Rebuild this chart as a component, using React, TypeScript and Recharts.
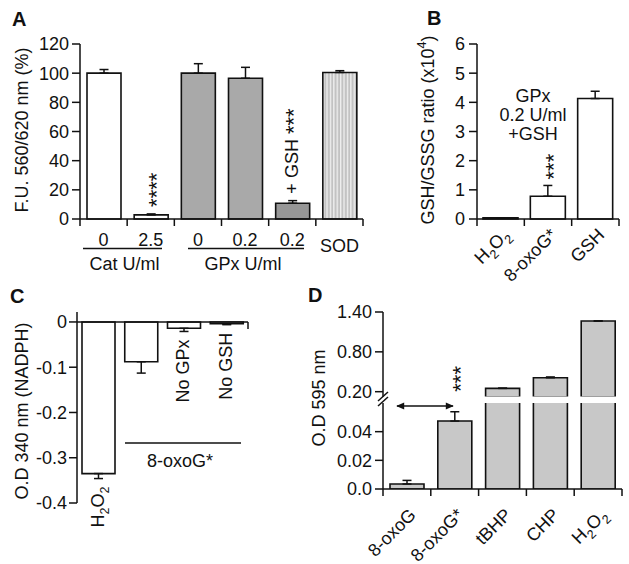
import React from 'react';
import { BarChart, Bar, XAxis, YAxis, ErrorBar, Cell, LabelList, ReferenceLine } from 'recharts';

const FONT = '"Liberation Sans", Arial, Helvetica, sans-serif';
const INK = '#111111';
const FS = 18;
const STAR_FS = 22;

// A: fluorescence, % of control
const A_CATS = ['0', '2.5', '0', '0.2', '0.2', 'SOD'];
const A_VALUES = [100, 2.8, 100, 96.5, 10.8, 100.5];
const A_ERRORS = [2.5, 0.7, 6.5, 7.5, 1.8, 1.2];
const A_NOTES = ['', '****', '', '', '+ GSH ***', ''];
const A_FILLS = ['#ffffff', '#ffffff', '#a9a9a9', '#a9a9a9', '#979797', 'url(#sodStripes)'];
const A_TICKS = [0, 20, 40, 60, 80, 100, 120];

// B: GSH/GSSG ratio
const B_CATS = ['H₂O₂', '8-oxoG*', 'GSH'];
const B_VALUES = [0.04, 0.78, 4.13];
const B_ERRORS = [0, 0.37, 0.25];
const B_NOTES = ['', '***', ''];
const B_TICKS = [0, 1, 2, 3, 4, 5, 6];

// C: NADPH consumption
const C_CATS = ['H₂O₂', '', 'No GPx', 'No GSH'];
const C_VALUES = [-0.335, -0.088, -0.014, -0.004];
const C_ERRORS = [0.011, 0.025, 0.007, 0.002];
const C_TICKS = [-0.4, -0.3, -0.2, -0.1, 0];

// D: O.D 595 nm, broken axis
const D_CATS = ['8-oxoG', '8-oxoG*', 'tBHP', 'CHP', 'H₂O₂'];
const D_VALUES = [0.0035, 0.0474, 0.25, 0.41, 1.265];
const D_ERRORS = [0.0025, 0.0065, 0.003, 0.012, 0];
const D_NOTES = ['', '***', '', '', ''];
const D_UPPER_DOMAIN = [0.12, 1.4];
const D_UPPER_TICKS = [0.2, 0.8, 1.4];
const D_UPPER_LABELS = ['0.20', '0.80', '1.40'];
const D_LOWER_DOMAIN = [0, 0.06];
const D_LOWER_TICKS = [0, 0.02, 0.04];
const D_LOWER_LABELS = ['0.0', '0.02', '0.04'];

const SUB = '₀₁₂₃₄₅₆₇₈₉';
const SUP = '⁰¹²³⁴⁵⁶⁷⁸⁹';

// turns unicode sub/superscript digits into shifted tspans
function rich(text: string, size: number) {
  const runs: { kind: number; s: string }[] = [];
  for (const ch of text) {
    let kind = 0;
    let c = ch;
    if (SUB.includes(ch)) {
      kind = 1;
      c = String(SUB.indexOf(ch));
    } else if (SUP.includes(ch)) {
      kind = -1;
      c = String(SUP.indexOf(ch));
    }
    const last = runs[runs.length - 1];
    if (last && last.kind === kind) last.s += c;
    else runs.push({ kind, s: c });
  }
  let shift = 0;
  return runs.map((r, i) => {
    const target = r.kind === 1 ? size * 0.3 : r.kind === -1 ? -size * 0.42 : 0;
    const dy = target - shift;
    shift = target;
    return (
      <tspan key={i} dy={dy} fontSize={r.kind ? size * 0.7 : size}>
        {r.s}
      </tspan>
    );
  });
}

const axisLine = { stroke: INK, strokeWidth: 1.5 };
const yTick = { fill: INK, fontSize: FS, fontFamily: FONT };

// category tick: tick marks sit on the band edges, label in the band
function bandTick(labels: string[], band: number, slant: boolean, dx: number, dy: number) {
  return (p: any) => {
    const x = Number(p.x);
    const y = Number(p.y);
    const i = Number(p.payload?.value ?? p.index);
    const label = labels[i] ?? '';
    const last = i === labels.length - 1;
    const ax = x + dx;
    const ay = y + dy + (!slant && label === 'SOD' ? 6 : 0);
    return (
      <g>
        <line x1={x - band / 2} x2={x - band / 2} y1={y} y2={y + 7} stroke={INK} strokeWidth={1.5} />
        {last && <line x1={x + band / 2} x2={x + band / 2} y1={y} y2={y + 7} stroke={INK} strokeWidth={1.5} />}
        {slant ? (
          <text x={ax} y={ay} textAnchor="end" transform={`rotate(-45 ${ax} ${ay})`} fill={INK} fontSize={FS} fontFamily={FONT}>
            {rich(label, FS)}
          </text>
        ) : (
          <text x={ax} y={ay} textAnchor="middle" fill={INK} fontSize={FS} fontFamily={FONT}>
            {rich(label, FS)}
          </text>
        )}
      </g>
    );
  };
}

// vertical text stuck above (or below) a bar and its error bar
function barNote(texts: string[], values: number[], errors: number[], gap: number, below = false) {
  return (p: any) => {
    const i = Number(p.value);
    const text = texts[i];
    if (!text) return null;
    const vb = p.viewBox ?? {};
    const x = Number(vb.x ?? p.x);
    const y = Number(vb.y ?? p.y);
    const w = Number(vb.width ?? p.width);
    const h = Number(vb.height ?? p.height);
    const unit = Math.abs(h / values[i]);
    const err = errors[i] * unit;
    const parts = text.split(/(\*+)/).filter(Boolean);
    const mixed = parts.length > 1;
    const starsOnly = !mixed && text.startsWith('*');
    const dx = starsOnly ? 13 : 5.5;
    const cx = x + w / 2 + dx;
    const cy = below ? Math.max(y, y + h) + err + gap : Math.min(y, y + h) - err - gap;
    return (
      <text x={cx} y={cy} transform={`rotate(-90 ${cx} ${cy})`} textAnchor={below ? 'end' : 'start'} fill={INK} fontSize={FS} fontFamily={FONT}>
        {parts.map((s, k) =>
          s.startsWith('*') ? (
            <tspan key={k} fontSize={STAR_FS} dy={mixed ? 3 : 0}>
              {s}
            </tspan>
          ) : (
            <tspan key={k}>{rich(s, FS)}</tspan>
          )
        )}
      </text>
    );
  };
}

const aData = A_CATS.map((_, i) => ({ id: i, value: A_VALUES[i], err: [0, A_ERRORS[i]] }));
const bData = B_CATS.map((_, i) => ({ id: i, value: B_VALUES[i], err: [0, B_ERRORS[i]] }));
const cData = C_CATS.map((_, i) => ({ id: i, value: C_VALUES[i], err: [C_ERRORS[i], 0] }));
const dUpper = D_CATS.map((_, i) => ({
  id: i,
  value: D_VALUES[i] > D_UPPER_DOMAIN[0] ? D_VALUES[i] : null,
  err: [0, D_VALUES[i] > D_UPPER_DOMAIN[0] ? D_ERRORS[i] : 0],
}));
const dLower = D_CATS.map((_, i) => ({
  id: i,
  value: D_VALUES[i],
  err: [0, D_VALUES[i] + D_ERRORS[i] < D_LOWER_DOMAIN[1] ? D_ERRORS[i] : 0],
}));

function PanelA() {
  return (
    <div style={{ position: 'absolute', left: 0, top: 0 }}>
      <BarChart width={380} height={290} data={aData} margin={{ top: 44, right: 17, bottom: 31, left: 20 }} style={{ fontFamily: FONT }}>
        <XAxis dataKey="id" type="category" height={40} interval={0} tickLine={false} tickSize={0} tickMargin={0} axisLine={axisLine} tick={bandTick(A_CATS, 283 / 6, false, 0, 26.5)} />
        <YAxis type="number" domain={[0, 120]} ticks={A_TICKS} interval={0} width={60} tickSize={8} tickMargin={3} axisLine={axisLine} tickLine={axisLine} tick={yTick} />
        <Bar dataKey="value" barSize={34} stroke={INK} strokeWidth={1.6} isAnimationActive={false}>
          {aData.map((_, i) => (
            <Cell key={i} fill={A_FILLS[i]} />
          ))}
          <ErrorBar dataKey="err" width={4.5} stroke={INK} strokeWidth={1.5} direction="y" isAnimationActive={false} />
          <LabelList dataKey="id" content={barNote(A_NOTES, A_VALUES, A_ERRORS, 7)} />
        </Bar>
      </BarChart>
    </div>
  );
}

function PanelB() {
  return (
    <div style={{ position: 'absolute', left: 400, top: 0 }}>
      <BarChart width={229} height={300} data={bData} margin={{ top: 44, right: 10, bottom: 11, left: 27 }} style={{ fontFamily: FONT }}>
        <XAxis dataKey="id" type="category" height={70} interval={0} tickLine={false} tickSize={0} tickMargin={0} axisLine={axisLine} tick={bandTick(B_CATS, 142 / 3, true, 10, 17)} />
        <YAxis type="number" domain={[0, 6]} ticks={B_TICKS} interval={0} width={50} tickSize={8} tickMargin={4} axisLine={axisLine} tickLine={axisLine} tick={yTick} />
        <Bar dataKey="value" barSize={35} fill="#ffffff" stroke={INK} strokeWidth={1.6} isAnimationActive={false}>
          <ErrorBar dataKey="err" width={4.5} stroke={INK} strokeWidth={1.5} direction="y" isAnimationActive={false} />
          <LabelList dataKey="id" content={barNote(B_NOTES, B_VALUES, B_ERRORS, 6)} />
        </Bar>
      </BarChart>
    </div>
  );
}

function PanelC() {
  return (
    <div style={{ position: 'absolute', left: 0, top: 290 }}>
      <BarChart width={300} height={274} data={cData} margin={{ top: 22, right: 52, bottom: 61, left: 17 }} style={{ fontFamily: FONT }}>
        <XAxis dataKey="id" type="category" hide />
        <YAxis type="number" domain={[-0.4, 0.022]} ticks={C_TICKS} interval={0} width={60} tickSize={8} tickMargin={2} axisLine={axisLine} tickLine={axisLine} tick={yTick} tickFormatter={(v: number) => String(v)} />
        <Bar dataKey="value" barSize={33} fill="#ffffff" stroke={INK} strokeWidth={1.6} isAnimationActive={false}>
          <ErrorBar dataKey="err" width={4.5} stroke={INK} strokeWidth={1.5} direction="y" isAnimationActive={false} />
          <LabelList dataKey="id" content={barNote(C_CATS, C_VALUES, C_ERRORS, 8, true)} />
        </Bar>
        <ReferenceLine y={0} stroke={INK} strokeWidth={1.5} />
      </BarChart>
    </div>
  );
}

function PanelD() {
  const band = 239 / 5;
  return (
    <>
      <div style={{ position: 'absolute', left: 320, top: 290 }}>
        <BarChart width={309} height={115} data={dUpper} margin={{ top: 22, right: 7, bottom: 8, left: 8 }} style={{ fontFamily: FONT }}>
          <XAxis dataKey="id" type="category" hide />
          <YAxis type="number" domain={D_UPPER_DOMAIN} allowDataOverflow ticks={D_UPPER_TICKS} interval={0} width={55} tickSize={8} tickMargin={3} axisLine={axisLine} tickLine={axisLine} tick={yTick} tickFormatter={(_: number, i: number) => D_UPPER_LABELS[i]} />
          <Bar dataKey="value" barSize={34} fill="#c8c8c8" stroke={INK} strokeWidth={1.6} isAnimationActive={false}>
            <ErrorBar dataKey="err" width={4.5} stroke={INK} strokeWidth={1.5} direction="y" isAnimationActive={false} />
          </Bar>
        </BarChart>
      </div>
      <div style={{ position: 'absolute', left: 320, top: 290 }}>
        <BarChart width={309} height={274} data={dLower} margin={{ top: 113, right: 7, bottom: 0, left: 8 }} style={{ fontFamily: FONT }}>
          <XAxis dataKey="id" type="category" height={75} interval={0} tickLine={false} tickSize={0} tickMargin={0} axisLine={axisLine} tick={bandTick(D_CATS, band, true, 10, 27)} />
          <YAxis type="number" domain={D_LOWER_DOMAIN} allowDataOverflow ticks={D_LOWER_TICKS} interval={0} width={55} tickSize={8} tickMargin={3} axisLine={axisLine} tickLine={axisLine} tick={yTick} tickFormatter={(_: number, i: number) => D_LOWER_LABELS[i]} />
          <Bar dataKey="value" barSize={34} fill="#c8c8c8" stroke={INK} strokeWidth={1.6} isAnimationActive={false}>
            <ErrorBar dataKey="err" width={4.5} stroke={INK} strokeWidth={1.5} direction="y" isAnimationActive={false} />
            <LabelList dataKey="id" content={barNote(D_NOTES, D_VALUES, D_ERRORS, 20)} />
          </Bar>
        </BarChart>
      </div>
    </>
  );
}

function Overlay() {
  const t = { fill: INK, fontFamily: FONT, fontSize: FS };
  const letter = { fill: INK, fontFamily: FONT, fontSize: 20, fontWeight: 700 };
  const rot = (x: number, y: number) => `rotate(-90 ${x} ${y})`;
  return (
    <svg width={629} height={564} style={{ position: 'absolute', left: 0, top: 0, pointerEvents: 'none' }}>
      <defs>
        <pattern id="sodStripes" width={3.4} height={10} patternUnits="userSpaceOnUse">
          <rect width={3.4} height={10} fill="#c2c2c2" />
          <rect width={1.3} height={10} fill="#f0f0f0" />
        </pattern>
        <marker id="arrowHead" viewBox="0 0 10 10" refX={9} refY={5} markerWidth={10} markerHeight={8} markerUnits="userSpaceOnUse" orient="auto-start-reverse">
          <path d="M0,0.5 L10,5 L0,9.5 z" fill={INK} />
        </marker>
      </defs>

      {/* panel letters */}
      <text x={12} y={26} {...letter}>A</text>
      <text x={427} y={25} {...letter}>B</text>
      <text x={10} y={303} {...letter}>C</text>
      <text x={308} y={302} {...letter}>D</text>

      {/* axis titles */}
      <text x={28} y={130} transform={rot(28, 130)} textAnchor="middle" {...t}>F.U. 560/620 nm (%)</text>
      <text x={434} y={130} transform={rot(434, 130)} textAnchor="middle" {...t}>{rich('GSH/GSSG ratio (x10⁴)', FS)}</text>
      <text x={28} y={411} transform={rot(28, 411)} textAnchor="middle" {...t}>O.D 340 nm (NADPH)</text>
      <text x={325} y={398} transform={rot(325, 398)} textAnchor="middle" {...t}>O.D 595 nm</text>

      {/* A groups */}
      <line x1={83} x2={162} y1={248.5} y2={248.5} stroke={INK} strokeWidth={1.5} />
      <text x={124.5} y={270} textAnchor="middle" {...t}>Cat U/ml</text>
      <line x1={188} x2={304} y1={248.5} y2={248.5} stroke={INK} strokeWidth={1.5} />
      <text x={243} y={269.5} textAnchor="middle" {...t}>GPx U/ml</text>

      {/* B condition */}
      <text x={533} y={102} textAnchor="middle" {...t}>GPx</text>
      <text x={533} y={121} textAnchor="middle" {...t}>0.2 U/ml</text>
      <text x={533} y={140} textAnchor="middle" {...t}>+GSH</text>

      {/* C group */}
      <line x1={248} x2={248} y1={322} y2={329} stroke={INK} strokeWidth={1.5} />
      <line x1={125} x2={241} y1={443} y2={443} stroke={INK} strokeWidth={1.5} />
      <text x={180} y={467} textAnchor="middle" {...t}>8-oxoG*</text>

      {/* D axis break and arrow */}
      <rect x={384.5} y={396.5} width={242} height={6.5} fill="#ffffff" />
      <line x1={378} y1={401} x2={388} y2={392} stroke={INK} strokeWidth={1.5} />
      <line x1={378} y1={406} x2={388} y2={397} stroke={INK} strokeWidth={1.5} />
      <line x1={397} y1={406} x2={453} y2={406} stroke={INK} strokeWidth={1.5} markerStart="url(#arrowHead)" markerEnd="url(#arrowHead)" />
    </svg>
  );
}

export default function App() {
  return (
    <div style={{ position: 'absolute', left: 0, top: 0, width: 629, height: 564, background: '#ffffff' }}>
      <PanelA />
      <PanelB />
      <PanelC />
      <PanelD />
      <Overlay />
    </div>
  );
}
